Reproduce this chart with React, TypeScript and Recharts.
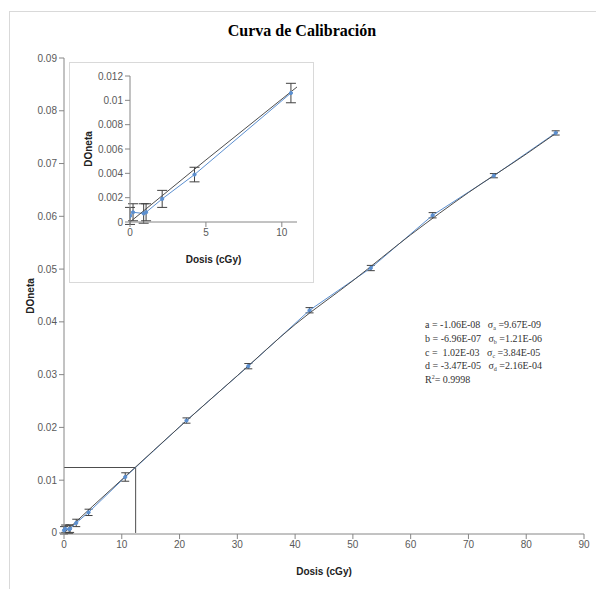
import { ComposedChart, Line, XAxis, YAxis, ErrorBar } from "recharts";

const dosis = [0, 0.2, 0.9, 1.06, 2.12, 4.25, 10.6, 21.2, 31.9, 42.5, 53.1, 63.8, 74.4, 85.1];
const doNeta = [0.0005, 0.0008, 0.0007, 0.0008, 0.0019, 0.0039, 0.0106, 0.0213, 0.0316, 0.0422, 0.0502, 0.0602, 0.0677, 0.0758];
const errDoNeta = [0.0007, 0.0007, 0.0008, 0.0007, 0.0007, 0.0006, 0.0008, 0.0005, 0.0005, 0.0005, 0.0005, 0.0005, 0.0004, 0.0004];

// fitted cubic
const fitDosis = [0, 5, 11, 20, 30, 40, 50, 60, 70, 80, 85.5];
const fitDoNeta = [0, 0.0051, 0.0111, 0.0201, 0.0298, 0.0395, 0.0478, 0.0565, 0.0645, 0.0718, 0.076];

// reading guide at 12.4 cGy
const guideDosis = [0, 12.4, 12.4];
const guideDoNeta = [0.0124, 0.0124, 0];

const mainXTicks = [0, 10, 20, 30, 40, 50, 60, 70, 80, 90];
const mainYTicks = [0, 0.01, 0.02, 0.03, 0.04, 0.05, 0.06, 0.07, 0.08, 0.09];
const insetXTicks = [0, 5, 10];
const insetYTicks = [0, 0.002, 0.004, 0.006, 0.008, 0.01, 0.012];

const points = dosis.map((x, i) => ({ x, y: doNeta[i], err: errDoNeta[i] }));
const fit = fitDosis.map((x, i) => ({ x, y: fitDoNeta[i] }));
const guide = guideDosis.map((x, i) => ({ x, y: guideDoNeta[i] }));
const insetPoints = points.filter((p) => p.x <= 11);
const insetFit = fit.filter((p) => p.x <= 11);

const BLUE = "#5b8fd0";
const GREY = "#4d4d4d";
const AXIS = "#868686";
const FONT = "Liberation Sans Narrow, Liberation Sans, Arial, sans-serif";
const tick = { fill: "#595959", fontSize: 10, fontFamily: FONT };
const axisLabel = { fill: "#222", fontSize: 10, fontWeight: 700, fontFamily: "Liberation Sans, Arial, sans-serif" };

const fmt = (v: number) => String(v);
const sub = { fontSize: 6, position: "relative" as const, top: 2, lineHeight: 0 };
const sup = { fontSize: 6, position: "relative" as const, top: -4, lineHeight: 0 };
const row = { height: 13.8 };

export default function App() {
  return (
    <div style={{ position: "absolute", left: 0, top: 0, width: 596, height: 589, overflow: "hidden", background: "#fff" }}>
      <div style={{ position: "absolute", left: 9, top: 11, width: 620, height: 620, border: "1px solid #d9d9d9" }} />
      <div
        style={{
          position: "absolute",
          left: 0,
          width: 604,
          top: 22,
          textAlign: "center",
          fontFamily: "Liberation Serif, Times New Roman, serif",
          fontWeight: 700,
          fontSize: 16,
        }}
      >
        Curva de Calibración
      </div>
      <div style={{ position: "absolute", left: 0, top: 0 }}>
        <ComposedChart width={596} height={589} margin={{ top: 58, right: 12, bottom: 0, left: 0 }}>
          <XAxis
            type="number"
            dataKey="x"
            domain={[0, 90]}
            ticks={mainXTicks}
            height={55}
            stroke={AXIS}
            tick={tick}
            tickSize={5}
            tickFormatter={fmt}
            label={{ value: "Dosis (cGy)", position: "center", dy: 10, style: axisLabel }}
          />
          <YAxis
            type="number"
            dataKey="y"
            domain={[0, 0.09]}
            ticks={mainYTicks}
            width={64}
            stroke={AXIS}
            tick={tick}
            tickSize={5}
            tickFormatter={fmt}
            label={{ value: "DOneta", angle: -90, position: "center", dx: -2, style: axisLabel }}
          />
          <Line data={guide} dataKey="y" stroke={GREY} strokeWidth={1} dot={false} isAnimationActive={false} />
          <Line data={points} dataKey="y" stroke={BLUE} strokeWidth={1} dot={{ r: 1.6, fill: BLUE, stroke: BLUE }} isAnimationActive={false}>
            <ErrorBar dataKey="err" direction="y" width={4} stroke="#404040" strokeWidth={1} />
          </Line>
          <Line data={fit} dataKey="y" type="monotone" stroke={GREY} strokeWidth={1} dot={false} isAnimationActive={false} />
        </ComposedChart>
      </div>
      <div
        style={{
          position: "absolute",
          left: 69,
          top: 62,
          width: 243,
          height: 219,
          border: "1px solid #d9d9d9",
          background: "#fff",
        }}
      >
        <ComposedChart width={243} height={219} margin={{ top: 13, right: 16, bottom: 0, left: 0 }}>
          <XAxis
            type="number"
            dataKey="x"
            domain={[0, 11]}
            ticks={insetXTicks}
            allowDataOverflow
            height={60}
            stroke={AXIS}
            tick={tick}
            tickSize={5}
            tickFormatter={fmt}
            label={{ value: "Dosis (cGy)", position: "center", dy: 7, style: axisLabel }}
          />
          <YAxis
            type="number"
            dataKey="y"
            domain={[0, 0.012]}
            ticks={insetYTicks}
            allowDataOverflow
            width={60}
            stroke={AXIS}
            tick={tick}
            tickSize={5}
            tickFormatter={fmt}
            label={{ value: "DOneta", angle: -90, position: "center", dx: -12, style: axisLabel }}
          />
          <Line data={insetPoints} dataKey="y" stroke={BLUE} strokeWidth={1} dot={{ r: 1.6, fill: BLUE, stroke: BLUE }} isAnimationActive={false}>
            <ErrorBar dataKey="err" direction="y" width={5} stroke="#404040" strokeWidth={1} />
          </Line>
          <Line data={insetFit} dataKey="y" stroke={GREY} strokeWidth={1} dot={false} isAnimationActive={false} />
        </ComposedChart>
      </div>
      <div
        style={{
          position: "absolute",
          left: 425,
          top: 318,
          fontFamily: "Liberation Serif, Times New Roman, serif",
          fontSize: 10,
          lineHeight: "13.8px",
          color: "#333",
          whiteSpace: "pre",
        }}
      >
        <div style={row}>a = -1.06E-08{"   "}σ<span style={sub}>a</span> =9.67E-09</div>
        <div style={row}>b = -6.96E-07{"   "}σ<span style={sub}>b</span> =1.21E-06</div>
        <div style={row}>c =  1.02E-03{"   "}σ<span style={sub}>c</span> =3.84E-05</div>
        <div style={row}>d = -3.47E-05{"   "}σ<span style={sub}>d</span> =2.16E-04</div>
        <div style={row}>R<span style={sup}>2</span>= 0.9998</div>
      </div>
    </div>
  );
}
